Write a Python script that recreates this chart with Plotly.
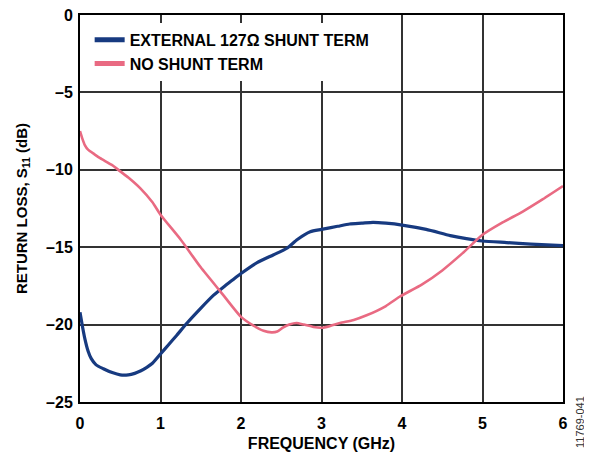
import plotly.graph_objects as go

# Data
freq_ext = [0.0, 0.03, 0.06, 0.1, 0.14, 0.2, 0.29, 0.4, 0.5, 0.6, 0.68, 0.75, 0.83, 0.9, 1.0, 1.1, 1.2, 1.33, 1.49, 1.66, 1.8, 1.9, 2.0, 2.2, 2.4, 2.57, 2.7, 2.86, 3.0, 3.2, 3.35, 3.5, 3.64, 3.8, 4.0, 4.3, 4.6, 4.8, 5.0, 5.3, 5.6, 6.0]
rl_ext = [-19.2, -20.1, -20.9, -21.7, -22.2, -22.6, -22.85, -23.1, -23.25, -23.25, -23.15, -23.0, -22.76, -22.5, -21.9, -21.3, -20.7, -19.9, -19.0, -18.1, -17.5, -17.1, -16.7, -16.0, -15.5, -15.07, -14.5, -14.0, -13.85, -13.65, -13.5, -13.45, -13.4, -13.45, -13.57, -13.85, -14.25, -14.45, -14.6, -14.7, -14.8, -14.9]

freq_no = [0.0, 0.03, 0.06, 0.1, 0.18, 0.25, 0.4, 0.5, 0.6, 0.75, 0.9, 1.0, 1.25, 1.5, 1.75, 2.0, 2.15, 2.28, 2.38, 2.45, 2.52, 2.6, 2.69, 2.78, 2.9, 3.0, 3.1, 3.23, 3.4, 3.56, 3.8, 3.97, 4.25, 4.5, 4.75, 5.0, 5.25, 5.5, 5.75, 6.0]
rl_no = [-7.5, -8.0, -8.4, -8.7, -9.0, -9.25, -9.7, -10.1, -10.5, -11.2, -12.1, -12.9, -14.5, -16.3, -17.9, -19.5, -20.05, -20.4, -20.5, -20.45, -20.2, -20.0, -19.9, -20.0, -20.15, -20.2, -20.1, -19.9, -19.7, -19.4, -18.8, -18.2, -17.4, -16.5, -15.4, -14.2, -13.4, -12.7, -11.9, -11.05]

x_ticks = [0, 1, 2, 3, 4, 5, 6]
y_ticks = [0, -5, -10, -15, -20, -25]
y_tick_text = ["0", "–5", "–10", "–15", "–20", "–25"]

FONT = "Liberation Sans, Arial, sans-serif"

fig = go.Figure()
fig.add_trace(go.Scatter(x=freq_ext, y=rl_ext, mode="lines", name="<b>EXTERNAL 127Ω SHUNT TERM</b>",
                         line=dict(color="#173a80", width=3.2, shape="spline", smoothing=0.6)))
fig.add_trace(go.Scatter(x=freq_no, y=rl_no, mode="lines", name="<b>NO SHUNT TERM</b>",
                         line=dict(color="#e96a82", width=2.6, shape="spline", smoothing=0.6)))

# page body has an 8px margin, so the figure is sized/offset to compensate
fig.update_layout(
    width=584, height=448,
    margin=dict(l=72, r=29, t=7, b=54, autoexpand=False),
    paper_bgcolor="white", plot_bgcolor="white",
    font=dict(family=FONT, size=16, color="black"),
    showlegend=True,
    legend=dict(x=0.02, y=0.98, xanchor="left", yanchor="top",
                bgcolor="white", borderwidth=0, itemwidth=30,
                font=dict(family=FONT, size=16, color="black"),
                tracegroupgap=0, itemsizing="constant"),
    xaxis=dict(range=[0, 6], tickvals=x_ticks, ticktext=[f"<b>{t}</b>" for t in x_ticks],
               showgrid=True, gridcolor="#333333", gridwidth=1.5,
               showline=True, linecolor="black", linewidth=2, mirror=True,
               ticks="", zeroline=False, automargin=False, ticklabelstandoff=6,
               ticklabeloverflow="allow",
               title=dict(text="<b>FREQUENCY (GHz)</b>", font=dict(size=16), standoff=7),
               tickfont=dict(size=16)),
    yaxis=dict(range=[-25, 0], tickvals=y_ticks, ticktext=[f"<b>{t}</b>" for t in y_tick_text],
               showgrid=True, gridcolor="#333333", gridwidth=1.5,
               showline=True, linecolor="black", linewidth=2, mirror=True,
               ticks="", zeroline=False, automargin=False, ticklabelstandoff=2,
               ticklabeloverflow="allow",
               title=dict(text="<b>RETURN LOSS, S<sub>11</sub> (dB)</b>", font=dict(size=15), standoff=15),
               tickfont=dict(size=16)),
)

fig.add_annotation(text="11769-041", xref="paper", yref="paper", x=1.035, y=-0.052,
                   xanchor="center", yanchor="middle", textangle=-90, showarrow=False,
                   font=dict(family=FONT, size=11, color="#333333"))

fig.write_html("out.html")
